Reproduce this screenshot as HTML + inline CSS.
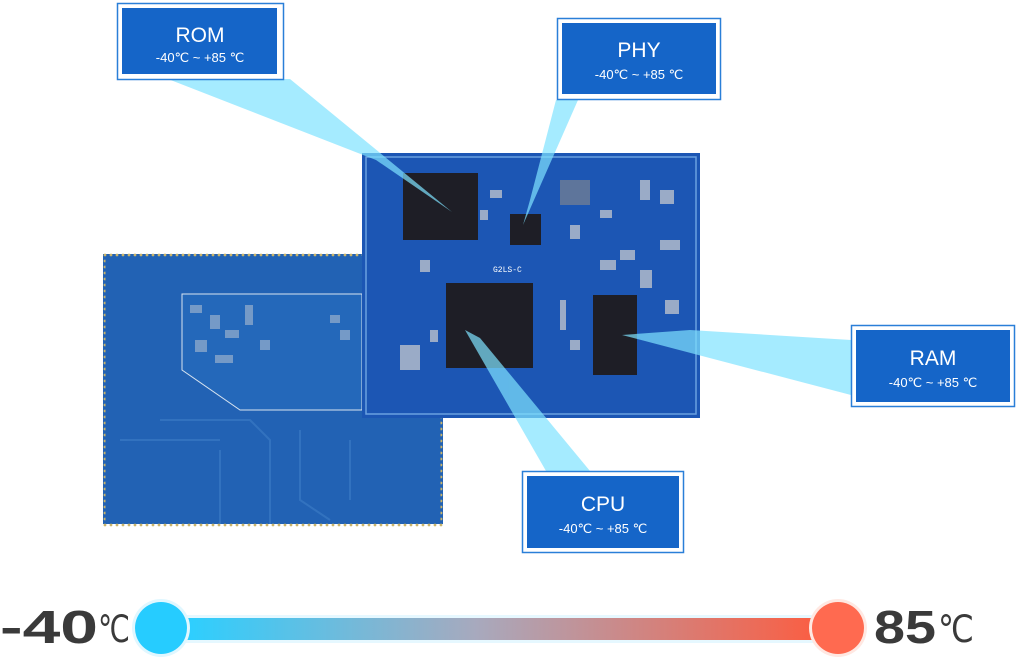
<!DOCTYPE html>
<html><head><meta charset="utf-8"><style>
body{margin:0;width:1016px;height:660px;background:#fff;overflow:hidden;font-family:"Liberation Sans",sans-serif}
</style></head><body>
<svg width="1016" height="660" viewBox="0 0 1016 660" xmlns="http://www.w3.org/2000/svg">
<defs>
<linearGradient id="bar" x1="0" x2="1"><stop offset="0" stop-color="#2ccfff"/><stop offset="0.45" stop-color="#a8a9bd"/><stop offset="1" stop-color="#ff5a3c"/></linearGradient>
<pattern id="dots" width="6" height="6" patternUnits="userSpaceOnUse"><circle cx="3" cy="3" r="1.4" fill="#c9b46a"/></pattern>
</defs>
<!-- back board -->
<rect x="103" y="254" width="340" height="270" fill="#2262b4"/>
<rect x="103" y="254" width="340" height="270" fill="none" stroke="url(#dots)" stroke-width="5"/>
<polygon points="182,294 362,294 362,410 240,410 182,370" fill="#2468ba" stroke="#d8e4f0" stroke-width="1"/>
<g fill="#d8d8d8" opacity="0.45"><rect x="190" y="305" width="12" height="8"/><rect x="210" y="315" width="10" height="14"/><rect x="225" y="330" width="14" height="8"/><rect x="195" y="340" width="12" height="12"/><rect x="245" y="305" width="8" height="20"/><rect x="215" y="355" width="18" height="8"/><rect x="260" y="340" width="10" height="10"/><rect x="330" y="315" width="10" height="8"/><rect x="340" y="330" width="10" height="10"/></g>
<g stroke="#3a7ac4" stroke-width="2" fill="none" opacity="0.7"><path d="M160 420 L250 420 L270 440 L270 524"/><path d="M300 430 L300 500 L330 520"/><path d="M120 440 L220 440"/><path d="M220 450 L220 524"/><path d="M350 440 L350 500"/></g>
<!-- front board -->
<rect x="362" y="153" width="338" height="265" fill="#1c56b4"/>
<rect x="366" y="157" width="330" height="257" fill="none" stroke="#6aa0e0" stroke-width="1.5"/>
<rect x="403" y="173" width="75" height="67" fill="#1e1e26"/>
<rect x="446" y="283" width="87" height="85" fill="#1e1e26"/>
<rect x="593" y="295" width="44" height="80" fill="#1e1e26"/>
<rect x="510" y="214" width="31" height="31" fill="#1e1e26"/>
<rect x="560" y="180" width="30" height="25" fill="#8a8a8a" opacity="0.6"/>
<g fill="#d0d0d0" opacity="0.7"><rect x="600" y="210" width="12" height="8"/><rect x="640" y="180" width="10" height="20"/><rect x="660" y="240" width="20" height="10"/><rect x="430" y="330" width="8" height="12"/><rect x="400" y="345" width="20" height="25"/><rect x="620" y="250" width="15" height="10"/><rect x="560" y="300" width="6" height="30"/><rect x="660" y="190" width="14" height="14"/><rect x="665" y="300" width="14" height="14"/><rect x="490" y="190" width="12" height="8"/><rect x="570" y="225" width="10" height="14"/><rect x="600" y="260" width="16" height="10"/><rect x="640" y="270" width="12" height="18"/><rect x="480" y="210" width="8" height="10"/><rect x="420" y="260" width="10" height="12"/><rect x="570" y="340" width="10" height="10"/></g>
<text x="493" y="272" font-size="8" fill="#fff" font-family="Liberation Mono">G2LS-C</text>
<!-- beams -->
<g fill="#7fe3ff" opacity="0.7">
<polygon points="168,79 290,79 452,212 376,160"/>
<polygon points="556,100 578,100 523,225 530,200"/>
<polygon points="622,335 690,330 851,340 851,395"/>
<polygon points="465,330 480,338 590,471 546,471"/>
</g>
<!-- labels -->
<g font-family="Liberation Sans" fill="#fff" text-anchor="middle">
<rect x="117.5" y="3.5" width="166" height="76" fill="none" stroke="#2a7fd8" stroke-width="1.5"/>
<rect x="122" y="8" width="155" height="66" fill="#1565c8"/>
<text x="200" y="42" font-size="21">ROM</text><text x="200" y="62" font-size="13">-40℃ ~ +85 ℃</text>
<rect x="557.5" y="18.5" width="163" height="81" fill="none" stroke="#2a7fd8" stroke-width="1.5"/>
<rect x="562" y="23" width="154" height="71" fill="#1565c8"/>
<text x="639" y="57" font-size="21">PHY</text><text x="639" y="79" font-size="13">-40℃ ~ +85 ℃</text>
<rect x="851.5" y="325.5" width="163" height="81" fill="none" stroke="#2a7fd8" stroke-width="1.5"/>
<rect x="856" y="330" width="154" height="72" fill="#1565c8"/>
<text x="933" y="365" font-size="21">RAM</text><text x="933" y="387" font-size="13">-40℃ ~ +85 ℃</text>
<rect x="522.5" y="471.5" width="161" height="81" fill="none" stroke="#2a7fd8" stroke-width="1.5"/>
<rect x="527" y="476" width="152" height="72" fill="#1565c8"/>
<text x="603" y="511" font-size="21">CPU</text><text x="603" y="533" font-size="13">-40℃ ~ +85 ℃</text>
</g>
<!-- bar -->
<rect x="180" y="615" width="660" height="28" fill="#e6f8ff"/>
<rect x="185" y="618" width="650" height="22" fill="url(#bar)"/>
<circle cx="161" cy="628" r="29" fill="#e0f7ff"/>
<circle cx="161" cy="628" r="26" fill="#26ccff"/>
<circle cx="838" cy="628" r="29" fill="#ffe8e2"/>
<circle cx="838" cy="628" r="26" fill="#ff6a50"/>
<text x="0" y="643" font-size="46" font-weight="bold" fill="#3a3a3a" font-family="Liberation Sans" textLength="98" lengthAdjust="spacingAndGlyphs">-40</text>
<text x="98" y="642" font-size="38" fill="#3a3a3a" font-family="Liberation Sans" textLength="32" lengthAdjust="spacingAndGlyphs">℃</text>
<text x="874" y="643" font-size="46" font-weight="bold" fill="#3a3a3a" font-family="Liberation Sans" textLength="62" lengthAdjust="spacingAndGlyphs">85</text>
<text x="938" y="642" font-size="38" fill="#3a3a3a" font-family="Liberation Sans" textLength="36" lengthAdjust="spacingAndGlyphs">℃</text>
</svg>
</body></html>
